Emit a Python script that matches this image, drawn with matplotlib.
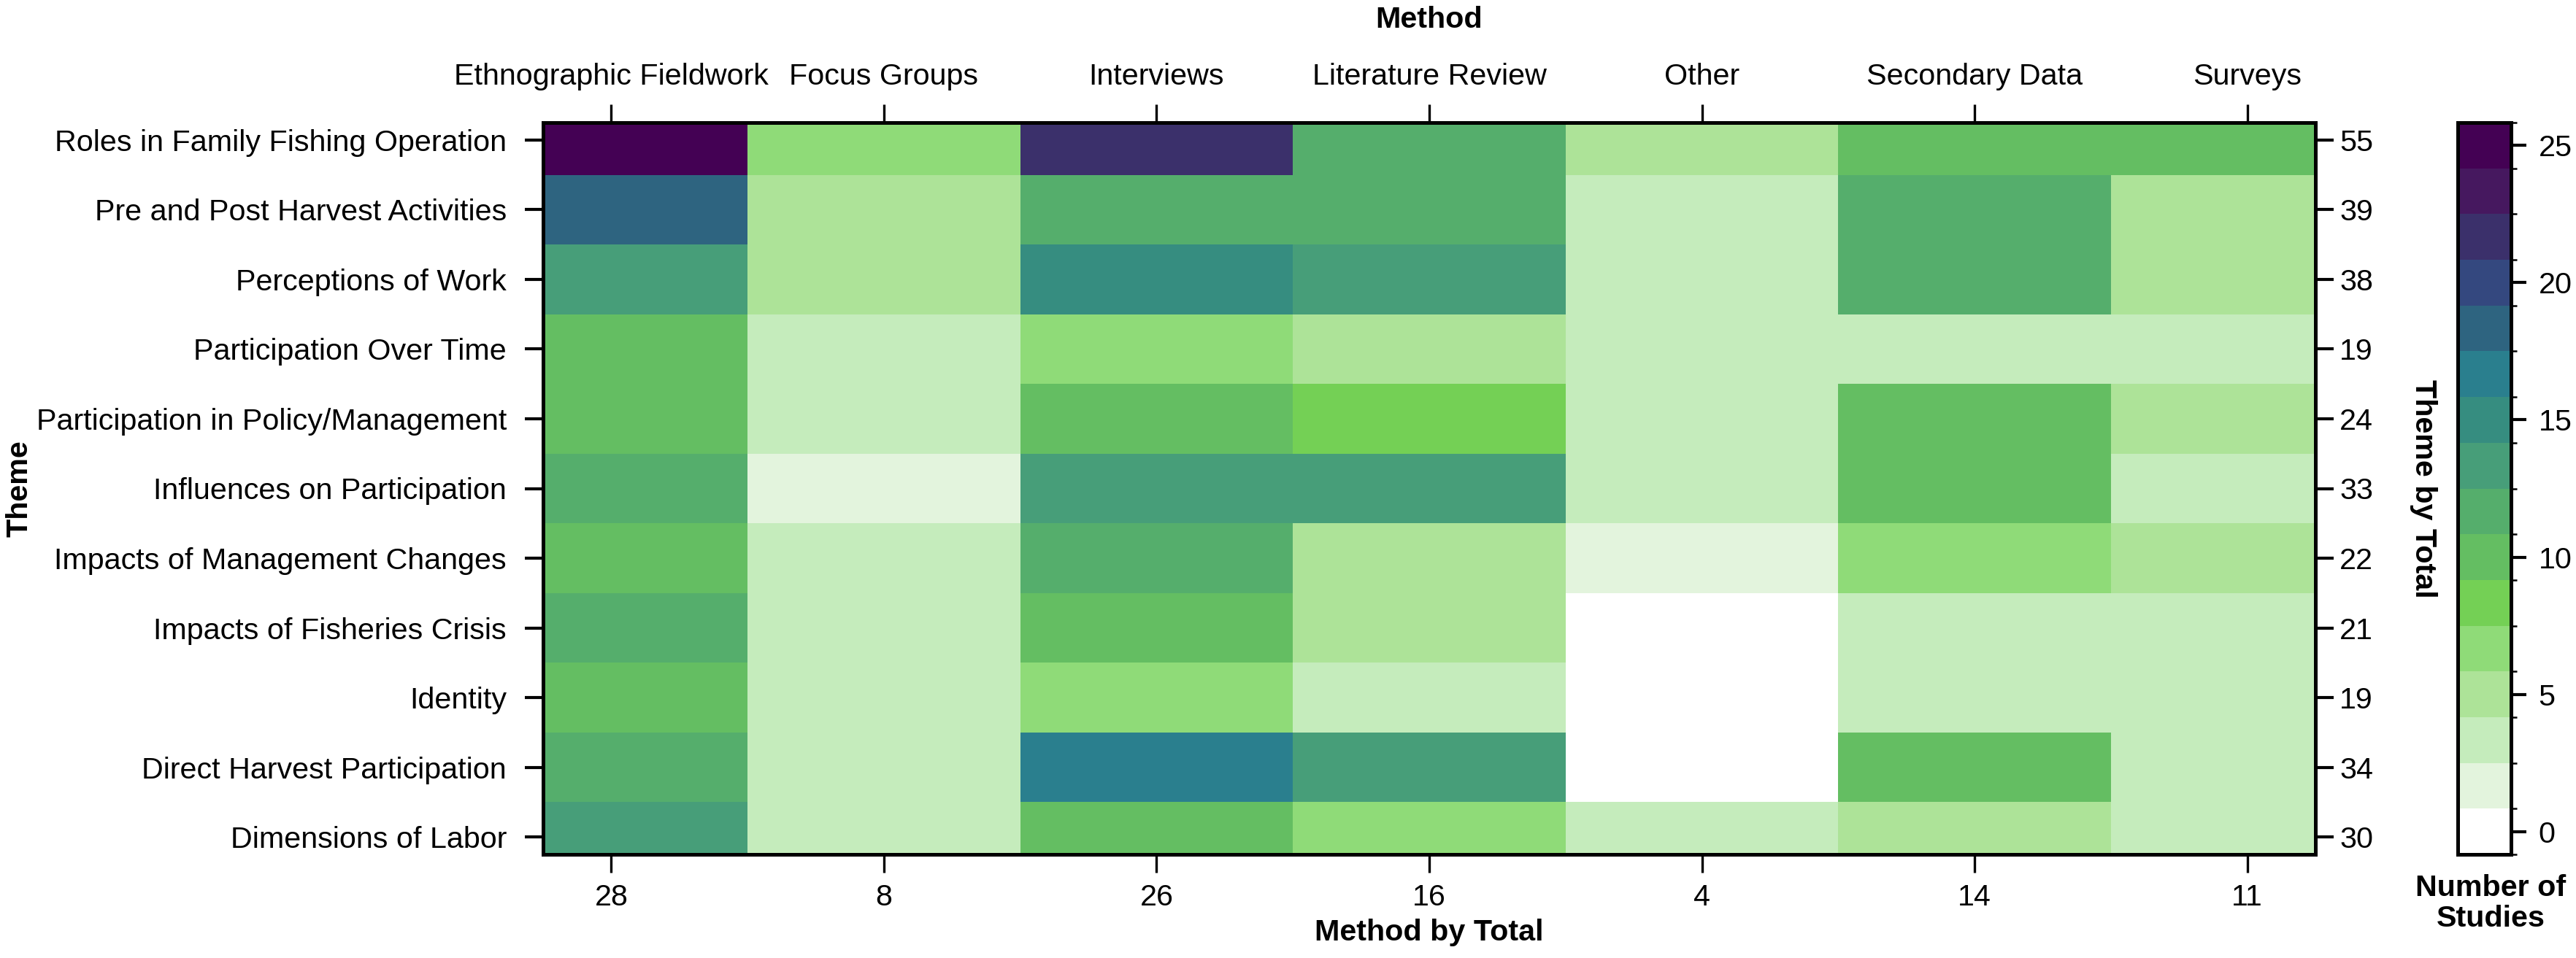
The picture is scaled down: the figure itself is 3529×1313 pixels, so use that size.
import numpy as np
import matplotlib
matplotlib.use("Agg")
import matplotlib.pyplot as plt
from matplotlib.colors import ListedColormap, BoundaryNorm

plt.rcParams['font.family'] = ['Liberation Sans', 'DejaVu Sans']

# ---- data ----
methods = ['Ethnographic Fieldwork', 'Focus Groups', 'Interviews', 'Literature Review',
           'Other', 'Secondary Data', 'Surveys']
themes = ['Roles in Family Fishing Operation', 'Pre and Post Harvest Activities',
          'Perceptions of Work', 'Participation Over Time',
          'Participation in Policy/Management', 'Influences on Participation',
          'Impacts of Management Changes', 'Impacts of Fisheries Crisis', 'Identity',
          'Direct Harvest Participation', 'Dimensions of Labor']
method_totals = [28, 8, 26, 16, 4, 14, 11]
theme_totals = [55, 39, 38, 19, 24, 33, 22, 21, 19, 34, 30]

# studies per theme (top to bottom) for each method
ethnographic = [25, 18, 13, 10, 10, 12, 10, 12, 10, 12, 13]
focus_groups = [7, 5, 5, 3, 3, 2, 3, 3, 3, 3, 3]
interviews = [22, 12, 15, 7, 10, 13, 12, 10, 7, 17, 10]
literature = [12, 12, 13, 5, 8, 13, 5, 5, 3, 13, 7]
other = [5, 3, 3, 3, 3, 3, 2, 0, 0, 0, 3]
secondary = [10, 12, 12, 3, 10, 10, 7, 3, 3, 10, 5]
surveys = [10, 5, 5, 3, 5, 3, 5, 3, 3, 3, 3]

# ---- styling ----
level_colors = ['#ffffff', '#e3f4dd', '#c5ecbc', '#ade398', '#8fdb78', '#74d055',
                '#64be62', '#55ae6c', '#479e79', '#368d80', '#2a7f8e', '#2e6480',
                '#34487f', '#3b306b', '#46185f', '#440154']
cmap = ListedColormap(level_colors)
bounds = np.linspace(-5 / 6, 25 + 5 / 6, 17)
norm = BoundaryNorm(bounds, cmap.N)

z = np.array([ethnographic, focus_groups, interviews, literature,
              other, secondary, surveys]).T

W, H = 3529, 1313
fig = plt.figure(figsize=(W / 300, H / 300), dpi=300)
ax = fig.add_axes([744 / W, 1 - 1171 / H, (3172 - 744) / W, (1171 - 168) / H])

xe = np.arange(len(methods) + 1) + 0.5
ye = np.arange(len(themes) + 1) + 0.5
mesh = ax.pcolormesh(xe, ye, z, cmap=cmap, norm=norm, antialiased=False,
                     edgecolors='face', linewidth=0)
ax.set_xlim(0.75, len(methods) + 0.25)
ax.set_ylim(len(themes) + 0.25, 0.75)

fs = 9.9
pos_x = np.arange(1, len(methods) + 1)
pos_y = np.arange(1, len(themes) + 1)

ax.set_yticks(pos_y)
ax.set_yticklabels(themes, fontsize=fs)
ax.set_xticks(pos_x)
ax.set_xticklabels(method_totals, fontsize=fs)
ax.tick_params(axis='y', length=6, width=1.0, pad=6)
ax.tick_params(axis='x', length=6, width=0.8, pad=3.5)

top = ax.secondary_xaxis('top')
top.set_xticks(pos_x)
top.set_xticklabels(methods, fontsize=fs)
top.tick_params(length=6, width=0.8, pad=4.5)
top.spines['top'].set_linewidth(1.2)

right = ax.secondary_yaxis('right')
right.set_yticks(pos_y)
right.set_yticklabels(theme_totals, fontsize=fs)
right.tick_params(length=6, width=1.0, pad=2)
right.spines['right'].set_linewidth(1.2)

for s in ax.spines.values():
    s.set_linewidth(1.2)

# axis titles
fig.text((744 + 3172) / 2 / W, 1 - 27 / H, 'Method', ha='center', va='center',
         fontsize=fs, fontweight='bold')
fig.text((744 + 3172) / 2 / W, 1 - 1278 / H, 'Method by Total', ha='center',
         va='center', fontsize=fs, fontweight='bold')
fig.text(26 / W, 1 - 670 / H, 'Theme', ha='center', va='center', rotation=90,
         fontsize=fs, fontweight='bold')
fig.text(3320 / W, 1 - 670 / H, 'Theme by Total', ha='center', va='center',
         rotation=-90, fontsize=fs, fontweight='bold')

# colour key
cax = fig.add_axes([3367 / W, 1 - 1171 / H, 73 / W, (1171 - 168) / H])
cb = fig.colorbar(mesh, cax=cax, ticks=[0, 5, 10, 15, 20, 25])
cb.outline.set_linewidth(1.2)
cax.tick_params(length=5, width=1.0, pad=4, labelsize=fs)
fig.text(3412 / W, 1 - 1238 / H, 'Number of\nStudies', ha='center', va='center',
         fontsize=fs, fontweight='bold', linespacing=1.15)

fig.savefig('out.png', dpi=300)
